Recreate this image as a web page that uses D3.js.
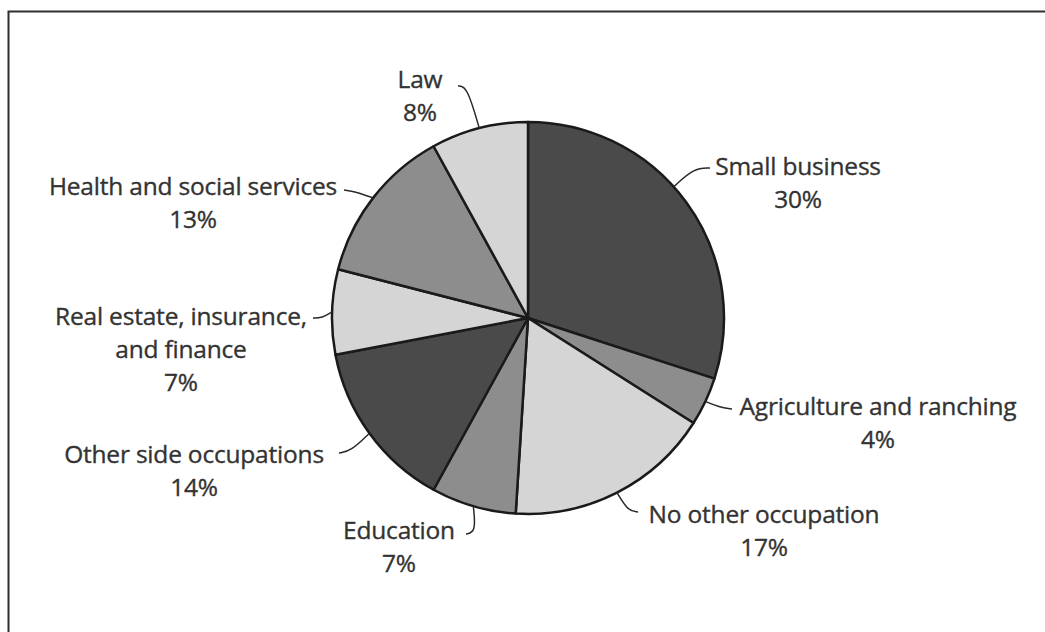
<!DOCTYPE html>
<html>
<head>
<meta charset="utf-8">
<script src="https://cdn.jsdelivr.net/npm/d3@7"></script>
<style>
  html, body { margin: 0; padding: 0; background: #fff; }
  svg { display: block; }
  .lbl { font-family: "Open Sans", "Noto Sans", sans-serif; font-size: 24.5px; fill: #333; stroke: #333; stroke-width: 0.35px; letter-spacing: -0.2px; }
</style>
</head>
<body>
<svg id="chart" width="1045" height="632"></svg>
<script>
// Share of respondents by side occupation (percent), clockwise from 12 o'clock
const categories = [
  "Small business",
  "Agriculture and ranching",
  "No other occupation",
  "Education",
  "Other side occupations",
  "Real estate, insurance, and finance",
  "Health and social services",
  "Law"
];
const shares = [30, 4, 17, 7, 14, 7, 13, 8];
const labelLines = [
  ["Small business"],
  ["Agriculture and ranching"],
  ["No other occupation"],
  ["Education"],
  ["Other side occupations"],
  ["Real estate, insurance,", "and finance"],
  ["Health and social services"],
  ["Law"]
];
const tones = ["dark", "mid", "light", "mid", "dark", "light", "mid", "light"];

const toneFill = { dark: "#4a4a4a", mid: "#8d8d8d", light: "#d5d5d5" };

// Label placement: text centre x, first baseline y, leader elbow and end,
// plus optional attach angle on the rim (degrees clockwise from top).
const labelLayout = [
  { x: 798, y: 175, elbow: [694, 168], end: [710, 168], angle: 48 },
  { x: 878, y: 415, elbow: [719, 407], end: [732, 409] },
  { x: 764, y: 523, elbow: [628, 511], end: [638, 512] },
  { x: 399, y: 539, elbow: [476, 532], end: [466, 534] },
  { x: 194, y: 463, elbow: [351, 451], end: [339, 453] },
  { x: 181, y: 325, elbow: [322, 318], end: [313, 318] },
  { x: 193, y: 195, elbow: [353, 191], end: [344, 190] },
  { x: 420, y: 88,  elbow: [467, 86],  end: [458, 86] }
];

const cx = 528, cy = 318, radius = 196, lineGap = 33;

const svg = d3.select("#chart");

// Outer frame, running off the right and bottom edges
svg.append("rect")
  .attr("x", 8.5).attr("y", 11.5)
  .attr("width", 1100).attr("height", 700)
  .attr("fill", "none")
  .attr("stroke", "#2e2e2e")
  .attr("stroke-width", 2);

const pieData = d3.pie().sort(null).value(d => d)(shares);
const arc = d3.arc().innerRadius(0).outerRadius(radius);

const g = svg.append("g").attr("transform", `translate(${cx},${cy})`);

g.selectAll("path.slice")
  .data(pieData)
  .join("path")
  .attr("class", "slice")
  .attr("d", arc)
  .attr("fill", (d, i) => toneFill[tones[i]])
  .attr("stroke", "#1a1a1a")
  .attr("stroke-width", 2.5)
  .attr("stroke-linejoin", "round");

// Leader lines from the rim to each label
const leader = d3.line().curve(d3.curveBasis);
pieData.forEach((d, i) => {
  const L = labelLayout[i];
  const a = L.angle !== undefined ? L.angle * Math.PI / 180 : (d.startAngle + d.endAngle) / 2;
  const rim = [cx + radius * Math.sin(a), cy - radius * Math.cos(a)];
  svg.append("path")
    .attr("d", leader([rim, L.elbow, L.end]))
    .attr("fill", "none")
    .attr("stroke", "#2a2a2a")
    .attr("stroke-width", 1.5);
});

// Labels: name lines followed by the percentage
pieData.forEach((d, i) => {
  const L = labelLayout[i];
  const lines = labelLines[i].concat([shares[i] + "%"]);
  const t = svg.append("text")
    .attr("class", "lbl")
    .attr("text-anchor", "middle");
  lines.forEach((s, k) => {
    t.append("tspan")
      .attr("x", L.x)
      .attr("y", L.y + k * lineGap)
      .text(s);
  });
});
</script>
</body>
</html>
